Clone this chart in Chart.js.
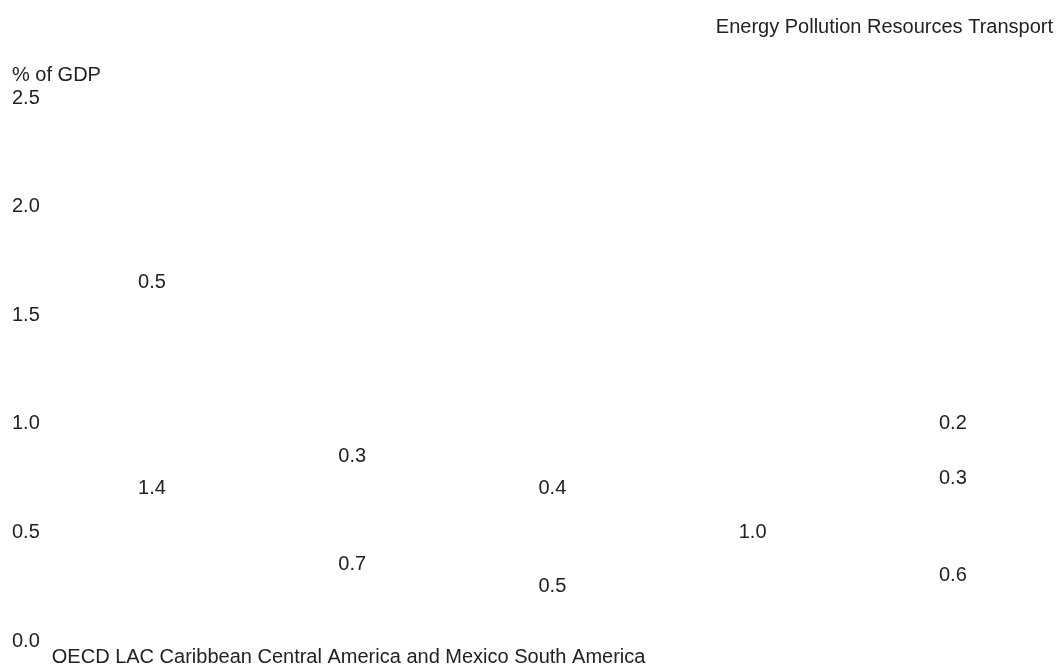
<!DOCTYPE html>
<html>
<head>
<meta charset="utf-8">
<script src="https://cdn.jsdelivr.net/npm/chart.js@4/dist/chart.umd.min.js"></script>
<style>
  body { margin: 0; background: #fff; }
  #wrap { width: 1057px; height: 670px; position: relative; }
</style>
</head>
<body>
<div id="wrap"><canvas id="gdpChart"></canvas></div>
<script>
// regions and environmental tax groups
const regions = ['OECD', 'LAC', 'Caribbean', 'Central America and Mexico', 'South America'];
const seriesNames = ['Energy', 'Pollution', 'Resources', 'Transport'];

// % of GDP, only the values shown on the picture
const energy = [1.4, 0.7, 0.5, 1.0, 0.6];
const pollution = [0.5, 0.3, 0.4, null, 0.3];
const resources = [null, null, null, null, 0.2];
const transport = [null, null, null, null, null];

const yTicks = [0, 0.5, 1.0, 1.5, 2.0, 2.5];

const textColor = '#222';
Chart.defaults.font.family = '"Liberation Sans", Arial, sans-serif';
Chart.defaults.font.size = 20;
Chart.defaults.color = textColor;

// write each value in the middle of its segment
const valueLabels = {
    id: 'valueLabels',
    afterDatasetsDraw(chart) {
        const ctx = chart.ctx;
        ctx.save();
        ctx.font = '20px "Liberation Sans", Arial, sans-serif';
        ctx.fillStyle = textColor;
        ctx.textAlign = 'center';
        ctx.textBaseline = 'middle';
        chart.data.datasets.forEach((ds, i) => {
            const meta = chart.getDatasetMeta(i);
            meta.data.forEach((bar, j) => {
                const v = ds.data[j];
                if (v === null || v === undefined) return;
                const { x, y, base } = bar.getProps(['x', 'y', 'base'], true);
                ctx.fillText(v.toFixed(1), x, (y + base) / 2);
            });
        });
        ctx.restore();
    }
};

const seriesData = [energy, pollution, resources, transport];

new Chart(document.getElementById('gdpChart'), {
    type: 'bar',
    data: {
        labels: regions,
        datasets: seriesNames.map((name, i) => ({
            label: name,
            data: seriesData[i],
            backgroundColor: 'rgba(0,0,0,0)',
            borderWidth: 0
        }))
    },
    options: {
        responsive: true,
        maintainAspectRatio: false,
        animation: false,
        layout: { padding: { left: 12, right: 4, top: 0, bottom: 0 } },
        plugins: {
            legend: { display: false },
            tooltip: { enabled: false },
            title: {
                display: true,
                text: seriesNames.join(' '),
                align: 'end',
                color: textColor,
                font: { size: 20, weight: 'normal' },
                padding: { top: 15, bottom: 12 }
            },
            subtitle: {
                display: true,
                text: '% of GDP',
                align: 'start',
                color: textColor,
                font: { size: 20, weight: 'normal' },
                padding: { top: 12, bottom: 11 }
            }
        },
        scales: {
            x: {
                stacked: true,
                grid: { display: false, drawTicks: false },
                border: { display: false },
                ticks: { display: false },
                title: {
                    display: true,
                    text: regions.join(' '),
                    align: 'start',
                    color: textColor,
                    font: { size: 20 },
                    padding: { top: 4, bottom: 1 }
                }
            },
            y: {
                stacked: true,
                min: yTicks[0],
                max: yTicks[yTicks.length - 1],
                grid: { display: false, drawTicks: false },
                border: { display: false },
                afterBuildTicks: (scale) => {
                    scale.ticks = yTicks.map(v => ({ value: v }));
                },
                ticks: {
                    crossAlign: 'far',
                    padding: 6,
                    color: textColor,
                    callback: (v) => Number(v).toFixed(1)
                }
            }
        }
    },
    plugins: [valueLabels]
});
</script>
</body>
</html>
